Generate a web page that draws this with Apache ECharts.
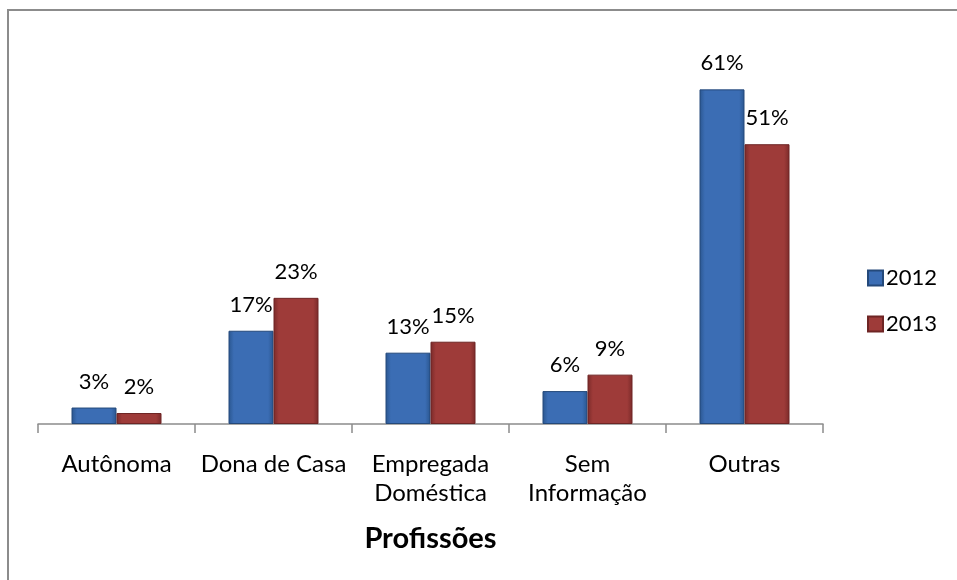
<!DOCTYPE html>
<html><head><meta charset="utf-8">
<script src="https://cdn.jsdelivr.net/npm/echarts@6/dist/echarts.min.js"></script>
<style>html,body{margin:0;padding:0;background:#fff}#c{width:957px;height:580px}</style>
</head><body><div id="c"></div>
<script>
const categories = ['Autônoma', 'Dona de Casa', 'Empregada\nDoméstica', 'Sem\nInformação', 'Outras'];
const seriesNames = ['2012', '2013'];
const values2012 = [3, 17, 13, 6, 61];
const values2013 = [2, 23, 15, 9, 51];
const axisTitle = 'Profissões';

const FONT = 'Lato';
function grad(edge, mid) {
  return new echarts.graphic.LinearGradient(0, 0, 1, 0, [
    {offset: 0, color: edge}, {offset: 0.12, color: mid}, {offset: 0.88, color: mid}, {offset: 1, color: edge}
  ]);
}
const chart = echarts.init(document.getElementById('c'));
const labelOpt = {
  show: true, position: 'top', distance: 15, color: '#000', fontFamily: FONT, fontSize: 22,
  formatter: p => p.value + '%'
};
chart.setOption({
  animation: false,
  graphic: [{type: 'rect', shape: {x: 8, y: 10, width: 1000, height: 1000},
    style: {fill: 'none', stroke: '#8c8c8c', lineWidth: 2}, silent: true}],
  grid: {left: 38, right: 134, top: 40, bottom: 156},
  legend: {
    orient: 'vertical', left: 862, top: 262, itemGap: 24, itemWidth: 15, itemHeight: 15,
    icon: 'rect',
    textStyle: {fontFamily: FONT, fontSize: 22, color: '#000', padding: [0, 0, 0, -2]},
    data: seriesNames
  },
  xAxis: {
    type: 'category', data: categories,
    axisLine: {lineStyle: {color: '#8c8c8c', width: 1.5}},
    axisTick: {show: true, length: 9, lineStyle: {color: '#8c8c8c', width: 1.5}},
    axisLabel: {fontFamily: FONT, fontSize: 24, color: '#000', margin: 26, lineHeight: 29, interval: 0},
    name: axisTitle, nameLocation: 'middle', nameGap: 100,
    nameTextStyle: {fontFamily: FONT, fontSize: 29, fontWeight: 'bold', color: '#000'}
  },
  yAxis: {type: 'value', min: 0, max: 70, show: false, splitLine: {show: false}},
  series: [
    {name: seriesNames[0], type: 'bar', data: values2012, barWidth: 45, barGap: '0%',
     itemStyle: {color: grad('#2a568f', '#3b6db4'), borderColor: '#24497a', borderWidth: 1}, label: labelOpt},
    {name: seriesNames[1], type: 'bar', data: values2013, barWidth: 45,
     itemStyle: {color: grad('#7a2a29', '#9e3b39'), borderColor: '#6e2524', borderWidth: 1}, label: labelOpt}
  ]
});
</script></body></html>
